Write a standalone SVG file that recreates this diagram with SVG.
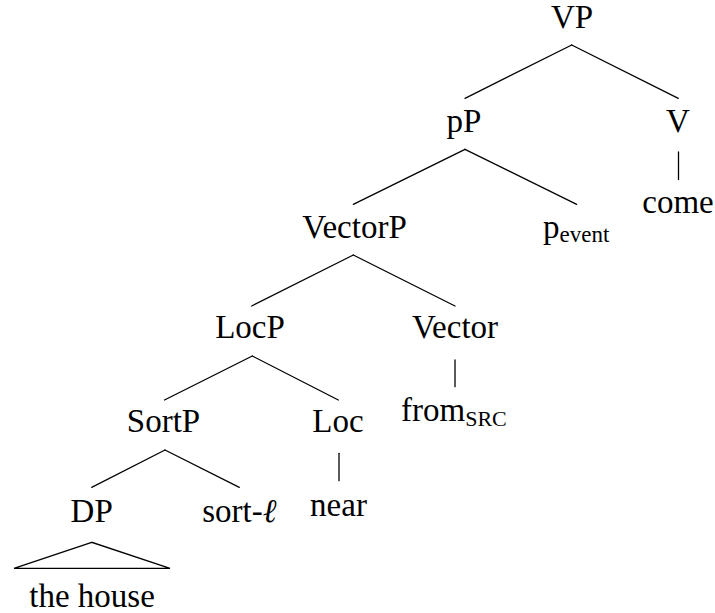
<svg xmlns="http://www.w3.org/2000/svg" width="715" height="613" viewBox="0 0 715 613">
<style>
text, tspan { font-family: 'Liberation Serif', 'Times New Roman', serif !important; }
.c { text-anchor: middle; }
.edge { stroke: #000; stroke-width: 1.3; fill: none; stroke-linecap: round; }
</style>
<rect width="715" height="613" fill="#fff"/>
<g id="connectors">
<line class="edge" x1="571.7" y1="45" x2="465" y2="98.3"/>
<line class="edge" x1="571.7" y1="45" x2="678.3" y2="98.3"/>
<line class="edge" x1="465" y1="149.3" x2="353.3" y2="204.3"/>
<line class="edge" x1="465" y1="149.3" x2="576.7" y2="204.3"/>
<line class="edge" x1="678.5" y1="152" x2="678.5" y2="179.5"/>
<line class="edge" x1="353.3" y1="255" x2="251.7" y2="306"/>
<line class="edge" x1="353.3" y1="255" x2="455" y2="306"/>
<line class="edge" x1="455" y1="360" x2="455" y2="386.7"/>
<line class="edge" x1="252.3" y1="356" x2="164.5" y2="400"/>
<line class="edge" x1="252.3" y1="356" x2="338.3" y2="400"/>
<line class="edge" x1="165" y1="450" x2="91.7" y2="487.3"/>
<line class="edge" x1="165" y1="450" x2="239.3" y2="487.3"/>
<line class="edge" x1="339" y1="453.3" x2="339" y2="480.7"/>
<polygon class="edge" points="91.7,542.3 14,568.3 170,568.3"/>
</g>
<g id="VP"><text class="c" x="572" y="28.3" font-family="Liberation Serif" font-size="33">VP</text></g>
<g id="pP"><text class="c" x="464" y="131.7" font-family="Liberation Serif" font-size="33">pP</text></g>
<g id="V"><text class="c" x="678" y="131.7" font-family="Liberation Serif" font-size="33">V</text></g>
<g id="come"><text class="c" x="678" y="213" font-family="Liberation Serif" font-size="33">come</text></g>
<g id="VectorP"><text class="c" x="354.5" y="238.3" font-family="Liberation Serif" font-size="33">VectorP</text></g>
<g id="p_event"><text x="543" y="238.3" font-family="Liberation Serif" font-size="33">p<tspan font-size="23" dy="3.7">event</tspan></text></g>
<g id="LocP"><text class="c" x="250" y="338.3" font-family="Liberation Serif" font-size="33">LocP</text></g>
<g id="Vector"><text class="c" x="455" y="338.3" font-family="Liberation Serif" font-size="33">Vector</text></g>
<g id="from_SRC"><text x="401" y="421" font-family="Liberation Serif" font-size="33">from<tspan font-size="22" dy="4.7">SRC</tspan></text></g>
<g id="SortP"><text class="c" x="163.5" y="432.3" font-family="Liberation Serif" font-size="33">SortP</text></g>
<g id="Loc"><text class="c" x="338" y="432.3" font-family="Liberation Serif" font-size="33">Loc</text></g>
<g id="DP"><text class="c" x="91.7" y="521.7" font-family="Liberation Serif" font-size="33">DP</text></g>
<g id="sort-l"><text class="c" x="239.3" y="521.7" font-family="Liberation Serif" font-size="33">sort-<tspan font-style="italic">ℓ</tspan></text></g>
<g id="near"><text class="c" x="338.5" y="515.7" font-family="Liberation Serif" font-size="33">near</text></g>
<g id="the_house"><text class="c" x="92" y="606.5" font-family="Liberation Serif" font-size="33">the house</text></g>
</svg>
